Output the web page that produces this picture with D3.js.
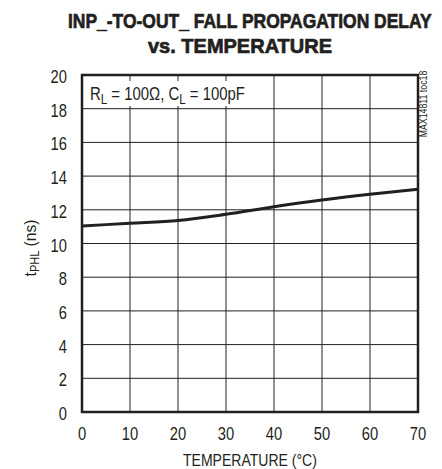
<!DOCTYPE html>
<html><head><meta charset="utf-8">
<script src="https://cdn.jsdelivr.net/npm/d3@7"></script>
<style>
body{margin:0;background:#fff;}
text{font-family:"Liberation Sans",Arial,sans-serif;fill:#231f20;}
</style></head><body>
<svg id="c" width="442" height="469"></svg>
<script>
const temperature = [0, 10, 20, 30, 40, 50, 60, 70];
const tphl = [11.04, 11.2, 11.36, 11.73, 12.18, 12.58, 12.92, 13.22];
const xTicks = [0, 10, 20, 30, 40, 50, 60, 70];
const yTicks = [0, 2, 4, 6, 8, 10, 12, 14, 16, 18, 20];
const titleLines = ["INP_-TO-OUT_ FALL PROPAGATION DELAY", "vs. TEMPERATURE"];

const svg = d3.select("#c");
const L = 82, R = 418, T = 75, B = 412;
const x = d3.scaleLinear().domain([0, 70]).range([L, R]);
const y = d3.scaleLinear().domain([0, 20]).range([B, T]);

// horizontally condense a text element around its anchor point
function squeezeTo(sel, ax, cy, targetW) {
  const w = sel.node().getBBox().width;
  const f = targetW / w;
  sel.attr("x", 0).attr("y", 0)
     .attr("transform", `translate(${ax},${cy}) scale(${f},1)`);
}
function squeezeRot(sel, cx, cy, targetW) {
  const w = sel.node().getBBox().width;
  const f = targetW / w;
  sel.attr("x", 0).attr("y", 0)
     .attr("transform", `translate(${cx},${cy}) rotate(-90) scale(${f},1)`);
}
const NARROW = 0.82;

// grid
svg.append("g").selectAll("line").data(xTicks.slice(1, -1)).join("line")
  .attr("x1", d => x(d)).attr("x2", d => x(d)).attr("y1", T).attr("y2", B)
  .attr("stroke", "#231f20").attr("stroke-width", 1);
svg.append("g").selectAll("line").data(yTicks.slice(1, -1)).join("line")
  .attr("x1", L).attr("x2", R).attr("y1", d => y(d)).attr("y2", d => y(d))
  .attr("stroke", "#231f20").attr("stroke-width", 1);

// annotation box
svg.append("rect").attr("x", L + 2).attr("y", 81).attr("width", 188).attr("height", 25).attr("fill", "#fff");
const ann = svg.append("text").attr("font-size", 18);
ann.append("tspan").text("R");
ann.append("tspan").attr("font-size", 14).attr("dy", 4).text("L");
ann.append("tspan").attr("dy", -4).text(" = 100\u03A9, C");
ann.append("tspan").attr("font-size", 14).attr("dy", 4).text("L");
ann.append("tspan").attr("dy", -4).text(" = 100pF");
squeezeTo(ann, 90, 100, 155);

// line
svg.append("path").datum(temperature.map((t, i) => [t, tphl[i]]))
  .attr("d", d3.line().x(d => x(d[0])).y(d => y(d[1])).curve(d3.curveMonotoneX))
  .attr("fill", "none").attr("stroke", "#231f20").attr("stroke-width", 3);

// frame
svg.append("rect").attr("x", L).attr("y", T).attr("width", R - L).attr("height", B - T)
  .attr("fill", "none").attr("stroke", "#231f20").attr("stroke-width", 2.5);

// tick labels
svg.append("g").selectAll("text").data(xTicks).join("text")
  .attr("text-anchor", "middle").attr("font-size", 18)
  .attr("transform", d => `translate(${x(d)},440) scale(${NARROW},1)`)
  .text(d => d);
svg.append("g").selectAll("text").data(yTicks).join("text")
  .attr("text-anchor", "end").attr("font-size", 18)
  .attr("transform", d => `translate(67,${y(d) + 8}) scale(${NARROW},1)`)
  .text(d => d);

// titles
svg.append("g").selectAll("text").data(titleLines).join("text")
  .attr("font-size", 21).attr("font-weight", "bold")
  .attr("stroke", "#231f20").attr("stroke-width", 0.7)
  .text(d => d)
  .each(function (d, i) {
    const s = d3.select(this);
    if (i === 0) squeezeTo(s, 68, 28, 364);
    else squeezeTo(s, 148, 53, 184);
  });

const xt = svg.append("text").attr("font-size", 17).text("TEMPERATURE (\u00B0C)");
squeezeTo(xt, 183, 466, 134);

const yl = svg.append("text").attr("text-anchor", "middle").attr("font-size", 17);
yl.append("tspan").text("t");
yl.append("tspan").attr("font-size", 12).attr("dy", 3).text("PHL");
yl.append("tspan").attr("dy", -3).text(" (ns)");
squeezeRot(yl, 36, 248, 57);

const toc = svg.append("text").attr("text-anchor", "middle").attr("font-size", 10).text("MAX14811 toc18");
squeezeRot(toc, 427, 104, 67);
</script>
</body></html>
